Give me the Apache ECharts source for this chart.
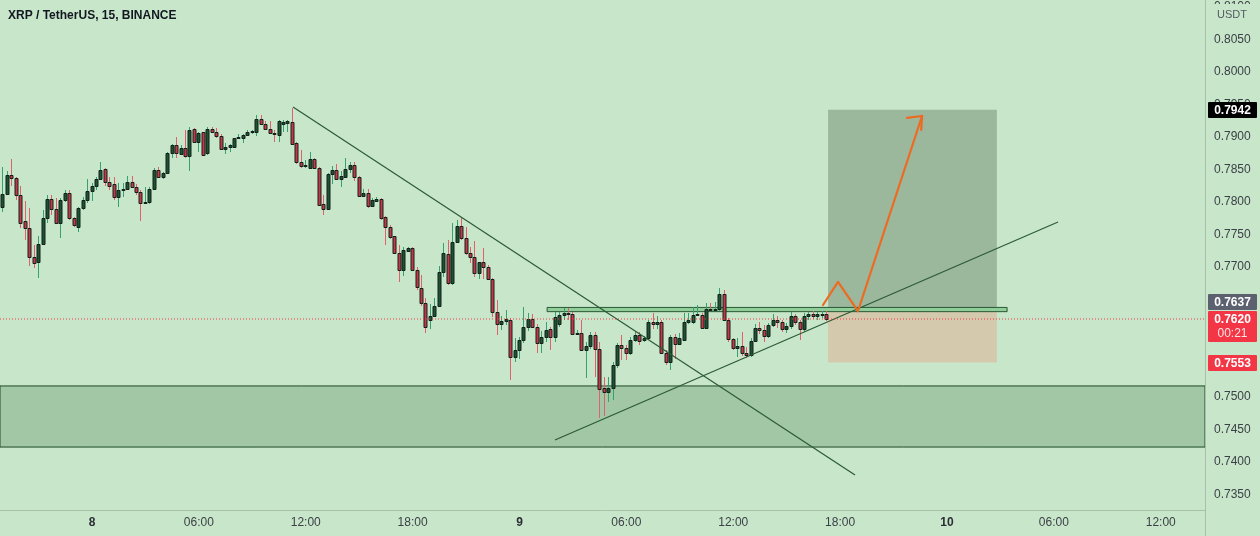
<!DOCTYPE html>
<html>
<head>
<meta charset="utf-8">
<script src="https://cdn.jsdelivr.net/npm/echarts@6/dist/echarts.min.js"></script>
<style>
html,body{margin:0;padding:0;background:#c8e6c9;}
#c{width:1260px;height:536px;}
</style>
</head>
<body>
<div id="c"></div>
<script>
// ---------- DATA ----------
const title = 'XRP / TetherUS, 15, BINANCE';
const currency = 'USDT';
// 15-minute candles; index k counts bars from day 8 00:00 (first bar k = -20)
const firstBar = -20;
const open = [
0.7793,0.7813,0.7842,0.7837,0.7811,0.7770,0.7760,0.7716,0.7707,0.7735,
0.7776,0.7804,0.7789,0.7768,0.7803,0.7814,0.7776,0.7762,0.7790,0.7803,
0.7817,0.7824,0.7835,0.7851,0.7830,0.7827,0.7808,0.7818,0.7820,0.7830,
0.7823,0.7816,0.7799,0.7800,0.7820,0.7849,0.7838,0.7844,0.7875,0.7887,
0.7874,0.7883,0.7870,0.7913,0.7893,0.7907,0.7875,0.7913,0.7908,0.7901,
0.7881,0.7884,0.7885,0.7898,0.7899,0.7903,0.7908,0.7907,0.7928,0.7920,
0.7913,0.7906,0.7903,0.7920,0.7922,0.7923,0.7890,0.7862,0.7855,0.7853,
0.7866,0.7853,0.7797,0.7789,0.7843,0.7849,0.7836,0.7839,0.7850,0.7857,
0.7839,0.7809,0.7814,0.7794,0.7801,0.7804,0.7777,0.7761,0.7747,0.7722,
0.7695,0.7725,0.7729,0.7696,0.7667,0.7645,0.7618,0.7625,0.7640,0.7693,
0.7720,0.7675,0.7738,0.7763,0.7744,0.7722,0.7716,0.7691,0.7707,0.7700,
0.7681,0.7630,0.7612,0.7617,0.7619,0.7561,0.7572,0.7588,0.7608,0.7620,
0.7608,0.7583,0.7593,0.7605,0.7592,0.7612,0.7626,0.7629,0.7628,0.7597,
0.7599,0.7572,0.7578,0.7595,0.7574,0.7514,0.7507,0.7514,0.7549,0.7580,
0.7576,0.7567,0.7588,0.7596,0.7587,0.7590,0.7616,0.7613,0.7616,0.7568,
0.7554,0.7593,0.7582,0.7588,0.7616,0.7616,0.7626,0.7626,0.7606,0.7635,
0.7634,0.7636,0.7659,0.7619,0.7589,0.7576,0.7579,0.7568,0.7565,0.7586,
0.7606,0.7603,0.7594,0.7610,0.7619,0.7615,0.7604,0.7609,0.7624,0.7615,
0.7604,0.7625,0.7627,0.7625,0.7626,0.7628];
const high = [
0.7854,0.7847,0.7866,0.7838,0.7824,0.7801,0.7790,0.7734,0.7747,0.7787,
0.7811,0.7811,0.7806,0.7806,0.7818,0.7818,0.7777,0.7793,0.7808,0.7835,
0.7829,0.7839,0.7861,0.7852,0.7839,0.7838,0.7829,0.7829,0.7840,0.7840,
0.7828,0.7818,0.7823,0.7823,0.7852,0.7854,0.7846,0.7877,0.7889,0.7900,
0.7888,0.7911,0.7916,0.7914,0.7908,0.7908,0.7916,0.7915,0.7914,0.7904,
0.7890,0.7889,0.7899,0.7904,0.7905,0.7911,0.7911,0.7934,0.7934,0.7925,
0.7925,0.7910,0.7926,0.7926,0.7926,0.7945,0.7892,0.7880,0.7864,0.7877,
0.7867,0.7854,0.7811,0.7844,0.7855,0.7858,0.7848,0.7867,0.7862,0.7862,
0.7840,0.7820,0.7820,0.7806,0.7807,0.7806,0.7778,0.7765,0.7748,0.7734,
0.7730,0.7731,0.7731,0.7700,0.7688,0.7652,0.7643,0.7652,0.7701,0.7737,
0.7742,0.7767,0.7772,0.7775,0.7762,0.7731,0.7740,0.7708,0.7729,0.7703,
0.7683,0.7649,0.7625,0.7634,0.7621,0.7590,0.7593,0.7639,0.7629,0.7628,
0.7613,0.7602,0.7616,0.7608,0.7630,0.7631,0.7637,0.7637,0.7630,0.7603,
0.7618,0.7585,0.7600,0.7600,0.7585,0.7531,0.7531,0.7554,0.7583,0.7595,
0.7580,0.7592,0.7600,0.7600,0.7594,0.7619,0.7629,0.7625,0.7619,0.7572,
0.7595,0.7597,0.7598,0.7629,0.7629,0.7639,0.7641,0.7629,0.7644,0.7644,
0.7646,0.7668,0.7665,0.7621,0.7591,0.7590,0.7600,0.7577,0.7590,0.7612,
0.7615,0.7610,0.7614,0.7628,0.7624,0.7619,0.7614,0.7630,0.7628,0.7618,
0.7629,0.7631,0.7632,0.7630,0.7632,0.7632];
const low = [
0.7785,0.7811,0.7824,0.7803,0.7760,0.7742,0.7701,0.7698,0.7683,0.7734,
0.7767,0.7780,0.7766,0.7744,0.7800,0.7772,0.7762,0.7754,0.7788,0.7798,
0.7801,0.7818,0.7834,0.7824,0.7818,0.7803,0.7793,0.7808,0.7818,0.7821,
0.7810,0.7770,0.7797,0.7797,0.7818,0.7837,0.7836,0.7843,0.7867,0.7867,
0.7872,0.7867,0.7847,0.7891,0.7877,0.7871,0.7873,0.7906,0.7898,0.7880,
0.7874,0.7877,0.7884,0.7897,0.7890,0.7902,0.7904,0.7901,0.7918,0.7911,
0.7905,0.7892,0.7892,0.7908,0.7908,0.7887,0.7858,0.7853,0.7852,0.7852,
0.7852,0.7794,0.7780,0.7788,0.7828,0.7835,0.7823,0.7838,0.7845,0.7833,
0.7808,0.7808,0.7790,0.7792,0.7800,0.7773,0.7734,0.7743,0.7720,0.7677,
0.7686,0.7723,0.7694,0.7664,0.7640,0.7598,0.7604,0.7624,0.7639,0.7685,
0.7672,0.7672,0.7737,0.7742,0.7718,0.7706,0.7685,0.7682,0.7682,0.7680,
0.7623,0.7595,0.7603,0.7611,0.7526,0.7554,0.7558,0.7583,0.7601,0.7607,
0.7567,0.7567,0.7585,0.7572,0.7585,0.7607,0.7619,0.7619,0.7595,0.7595,
0.7570,0.7529,0.7574,0.7531,0.7467,0.7470,0.7493,0.7496,0.7545,0.7557,
0.7557,0.7564,0.7585,0.7580,0.7584,0.7588,0.7604,0.7604,0.7566,0.7549,
0.7542,0.7558,0.7580,0.7587,0.7612,0.7612,0.7624,0.7604,0.7604,0.7633,
0.7633,0.7633,0.7617,0.7585,0.7572,0.7562,0.7563,0.7560,0.7562,0.7584,
0.7597,0.7585,0.7590,0.7607,0.7606,0.7600,0.7598,0.7605,0.7611,0.7588,
0.7600,0.7618,0.7620,0.7619,0.7622,0.7617];
const close = [
0.7813,0.7842,0.7837,0.7811,0.7767,0.7760,0.7716,0.7706,0.7735,0.7776,
0.7804,0.7789,0.7768,0.7803,0.7814,0.7776,0.7764,0.7790,0.7803,0.7817,
0.7824,0.7835,0.7849,0.7830,0.7825,0.7808,0.7818,0.7820,0.7830,0.7823,
0.7816,0.7799,0.7800,0.7820,0.7849,0.7839,0.7844,0.7875,0.7887,0.7875,
0.7883,0.7870,0.7911,0.7893,0.7906,0.7872,0.7913,0.7908,0.7901,0.7881,
0.7884,0.7888,0.7898,0.7900,0.7903,0.7908,0.7909,0.7928,0.7920,0.7913,
0.7906,0.7904,0.7924,0.7923,0.7924,0.7889,0.7862,0.7855,0.7857,0.7866,
0.7853,0.7795,0.7789,0.7843,0.7849,0.7836,0.7840,0.7850,0.7857,0.7839,
0.7809,0.7814,0.7794,0.7803,0.7804,0.7775,0.7761,0.7746,0.7722,0.7695,
0.7726,0.7729,0.7696,0.7669,0.7645,0.7608,0.7625,0.7640,0.7693,0.7721,
0.7675,0.7738,0.7763,0.7744,0.7721,0.7716,0.7691,0.7707,0.7700,0.7681,
0.7630,0.7612,0.7617,0.7620,0.7561,0.7572,0.7588,0.7608,0.7620,0.7608,
0.7583,0.7593,0.7603,0.7592,0.7623,0.7626,0.7629,0.7628,0.7597,0.7599,
0.7572,0.7578,0.7595,0.7574,0.7513,0.7507,0.7514,0.7549,0.7580,0.7576,
0.7567,0.7588,0.7595,0.7586,0.7590,0.7616,0.7612,0.7616,0.7568,0.7554,
0.7593,0.7582,0.7590,0.7616,0.7618,0.7626,0.7628,0.7606,0.7635,0.7634,
0.7636,0.7659,0.7619,0.7589,0.7576,0.7579,0.7568,0.7565,0.7586,0.7606,
0.7603,0.7594,0.7610,0.7619,0.7615,0.7604,0.7609,0.7624,0.7615,0.7604,
0.7625,0.7627,0.7625,0.7627,0.7628,0.7620];

// time axis ticks (bar index -> label)
const timeTickBars = [0, 24, 48, 72, 96, 120, 144, 168, 192, 216, 240];
const timeTickLabels = ['8', '06:00', '12:00', '18:00', '9', '06:00', '12:00', '18:00', '10', '06:00', '12:00'];
// price axis ticks
const priceTicks = [0.735, 0.740, 0.745, 0.750, 0.755, 0.760, 0.765, 0.770, 0.775, 0.780, 0.785, 0.790, 0.795, 0.800, 0.805, 0.810];

// drawings (bar index, price)
const demandZone = [0.7517, 0.7423];
const resistanceBox = [[102.2, 0.76378], [205.5, 0.76313]];
const targetPrice = 0.7942, entryPrice = 0.7637, stopPrice = 0.7553;
const positionBars = [165.3, 203.2];
const downTrend = [[45.14, 0.79462], [171.35, 0.73800]];
const upTrend = [[103.97, 0.74339], [216.93, 0.77693]];
const forecastPath = [[164.16, 0.76415], [167.53, 0.76770], [172.02, 0.76323], [186.4, 0.79323]];
const arrowHead = [[183.0, 0.79293], [186.4, 0.79323], [186.2, 0.79108]];
const lastPrice = 0.7620;
const countdown = '00:21';

// ---------- STYLE ----------
const X_MIN = -20.66, X_MAX = 249.94;
const BG = '#c8e6c9';
const TXT = '#3c4048';
const AXISC = '#a9bfaa';
const BODY_UP = '#1d5235', BODY_DN = '#c8364a', BODY_BORDER = '#13221a';
const WICK_UP = '#36a070', WICK_DN = '#e0606e';
const FONT = '"Liberation Sans", Arial, sans-serif';
const RED = '#f23645';

const candleData = open.map((o, i) => [firstBar + i, o, high[i], low[i], close[i]]);

const chart = echarts.init(document.getElementById('c'), null, {renderer: 'canvas'});

const option = {
  backgroundColor: BG,
  animation: false,
  grid: {left: 0, right: 55, top: 0, bottom: 26},
  xAxis: {
    type: 'value', min: X_MIN, max: X_MAX,
    axisLine: {show: true, onZero: false, lineStyle: {color: AXISC, width: 1}},
    axisTick: {show: false},
    splitLine: {show: false},
    axisLabel: {
      customValues: timeTickBars,
      margin: 7,
      fontFamily: FONT, fontSize: 12, color: TXT,
      formatter: function (v) {
        const i = timeTickBars.indexOf(Math.round(v));
        if (i < 0) return '';
        const t = timeTickLabels[i];
        return (i % 4 === 0) ? '{d|' + t + '}' : t;
      },
      rich: {d: {fontWeight: 'bold', fontFamily: FONT, fontSize: 12, color: '#2a2e35'}}
    }
  },
  yAxis: {
    type: 'value', position: 'right', min: 0.732615, max: 0.811077,
    axisLine: {show: true, onZero: false, lineStyle: {color: AXISC, width: 1}},
    axisTick: {show: false},
    splitLine: {show: false},
    axisLabel: {
      customValues: priceTicks,
      margin: 9,
      fontFamily: FONT, fontSize: 12, color: TXT,
      formatter: v => v.toFixed(4)
    }
  },
  series: [
    { // demand zone + position tool
      type: 'line', data: [], z: 1, silent: true,
      markArea: {
        silent: true,
        data: [
          [{yAxis: demandZone[0], itemStyle: {color: '#a1c7a5', borderColor: '#1d4a29', borderWidth: 1}}, {yAxis: demandZone[1]}],
          [{coord: [positionBars[0], targetPrice], itemStyle: {color: '#9cb89c', borderWidth: 0}}, {coord: [positionBars[1], entryPrice]}],
          [{coord: [positionBars[0], entryPrice], itemStyle: {color: '#d4c9ad', borderWidth: 0}}, {coord: [positionBars[1], stopPrice]}]
        ]
      }
    },
    { // resistance box
      type: 'line', data: [], z: 2, silent: true,
      markArea: {
        silent: true,
        data: [
          [{coord: resistanceBox[0], itemStyle: {color: '#8fcd99', borderColor: '#2a5834', borderWidth: 1}}, {coord: resistanceBox[1]}]
        ]
      }
    },
    { // candles
      type: 'custom', z: 3, silent: true,
      data: candleData,
      encode: {x: 0, y: [1, 2, 3, 4]},
      renderItem: function (params, api) {
        const k = api.value(0), o = api.value(1), h = api.value(2), l = api.value(3), c = api.value(4);
        const po = api.coord([k, o]), pc = api.coord([k, c]), ph = api.coord([k, h]), pl = api.coord([k, l]);
        const up = c >= o;
        const xc = Math.floor(po[0]) + 0.5;
        const top = Math.round(Math.min(po[1], pc[1])) + 0.5;
        const bot = Math.round(Math.max(po[1], pc[1])) + 0.5;
        return {
          type: 'group',
          children: [
            {type: 'line', shape: {x1: xc, y1: Math.round(ph[1]), x2: xc, y2: Math.round(pl[1])},
             style: {stroke: up ? WICK_UP : WICK_DN, lineWidth: 1}},
            {type: 'rect', shape: {x: xc - 1.5, y: top, width: 3, height: Math.max(bot - top, 1)},
             style: {fill: up ? BODY_UP : BODY_DN, stroke: BODY_BORDER, lineWidth: 1}}
          ]
        };
      }
    },
    { // last price dotted line
      type: 'line', z: 6, silent: true, symbol: 'none',
      data: [[X_MIN, lastPrice], [X_MAX, lastPrice]],
      lineStyle: {color: RED, type: [1, 2], width: 1}
    },
    {type: 'line', data: downTrend, z: 4, silent: true, symbol: 'none',
     lineStyle: {color: '#2c5a35', width: 1.2}},
    {type: 'line', data: upTrend, z: 4, silent: true, symbol: 'none',
     lineStyle: {color: '#2c5a35', width: 1.2}},
    {type: 'line', data: forecastPath, z: 5, silent: true, symbol: 'none',
     lineStyle: {color: '#ee6a22', width: 2.2, cap: 'round', join: 'round'}},
    {type: 'line', data: arrowHead, z: 5, silent: true, symbol: 'none',
     lineStyle: {color: '#ee6a22', width: 2.2, cap: 'round', join: 'round'}}
  ]
};
chart.setOption(option);

// axis price tags
const py = v => chart.convertToPixel({yAxisIndex: 0}, v);
const bx = 1208, bw = 49, tx = 1232.5;
const yT = py(targetPrice), yE = py(entryPrice), yL = py(lastPrice), yS = py(stopPrice);
const redTop = Math.round(yL) - 8;
const entryTop = Math.min(Math.round(yE) - 8, redTop - 17);
function tag(y0, h, fill, lines) {
  const els = [{type: 'rect', shape: {x: bx, y: y0, width: bw, height: h, r: 1}, style: {fill: fill}, z: 100}];
  lines.forEach(function (L) {
    els.push({type: 'text', z: 101, style: {text: L.t, x: tx, y: L.y, fill: L.c || '#ffffff',
      font: (L.b ? 'bold ' : '') + '12px ' + FONT, textAlign: 'center', textVerticalAlign: 'middle', align: 'center', verticalAlign: 'middle'}});
  });
  return els;
}
const g = [].concat(
  [{type: 'line', shape: {x1: 1205.5, y1: 0, x2: 1205.5, y2: 536}, style: {stroke: AXISC, lineWidth: 1}, z: 50}],
  [{type: 'rect', shape: {x: 1210, y: 4, width: 45, height: 20}, style: {fill: BG}, z: 90},
   {type: 'text', z: 91, style: {text: currency, x: 1232, y: 15, fill: '#555a62', font: '11px ' + FONT, textAlign: 'center', textVerticalAlign: 'middle', align: 'center', verticalAlign: 'middle'}}],
  tag(Math.round(yT) - 8, 16, '#000000', [{t: targetPrice.toFixed(4), y: Math.round(yT) + 0.5, b: true}]),
  tag(entryTop, 16, '#5c6170', [{t: entryPrice.toFixed(4), y: entryTop + 8.5, b: true}]),
  tag(redTop, 31, RED, [{t: lastPrice.toFixed(4), y: redTop + 9, b: true}, {t: countdown, y: redTop + 23, c: '#ffe4e6'}]),
  tag(Math.round(yS) - 8, 16, RED, [{t: stopPrice.toFixed(4), y: Math.round(yS) + 0.5, b: true}]),
  [{type: 'text', z: 100, style: {text: title, x: 8, y: 16, fill: '#131722', font: 'bold 12px ' + FONT, textAlign: 'left', textVerticalAlign: 'middle', align: 'left', verticalAlign: 'middle'}}]
);
chart.setOption({graphic: {elements: g}});
</script>
</body>
</html>
